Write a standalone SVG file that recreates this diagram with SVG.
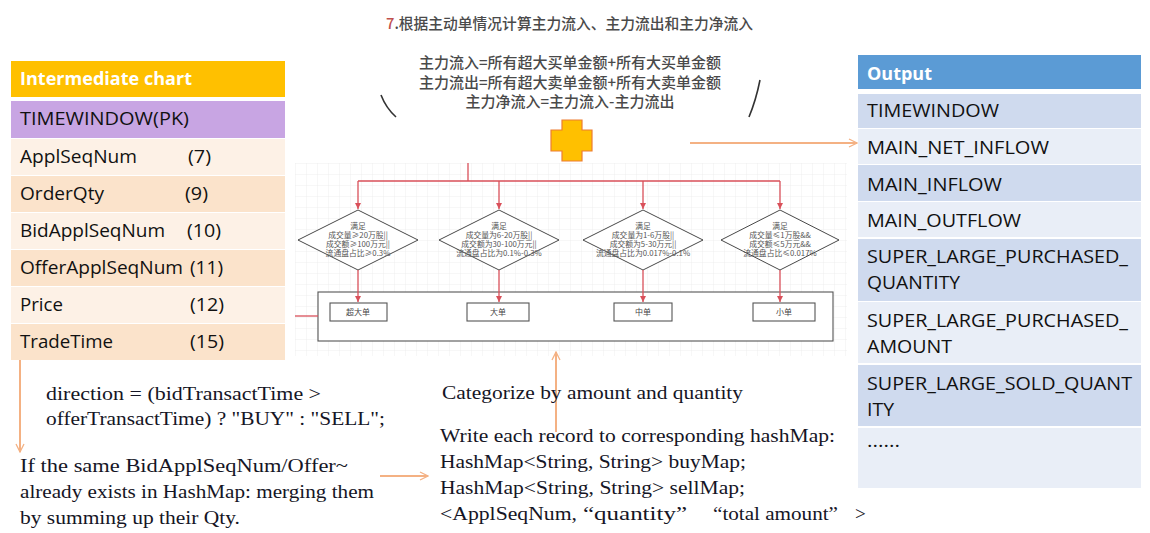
<svg xmlns="http://www.w3.org/2000/svg" width="1150" height="533" viewBox="0 0 1150 533">
<style>
.cal{font-family:"Open Sans","Lato",sans-serif;font-size:18px;fill:#111}
.hdr{font-family:"Open Sans","Lato",sans-serif;font-size:18px;font-weight:bold;fill:#fff}
.ser{font-family:"Liberation Serif","DejaVu Serif",serif;font-size:19px;fill:#151525}
.cn{font-family:"Noto Sans CJK SC",sans-serif;fill:#4a4a4a}
.dt{font-family:"Noto Sans CJK SC",sans-serif;font-size:7.8px;fill:#555;text-anchor:middle}
.bt{font-family:"Noto Sans CJK SC",sans-serif;font-size:8px;fill:#444;text-anchor:middle}
.red{stroke:#D9505A;stroke-width:1.3;fill:none}
.dia{fill:#fff;stroke:#333;stroke-width:0.9}
.box{fill:#fff;stroke:#555;stroke-width:1.1}
.org{stroke:#F4B183;stroke-width:2;fill:none}
.lt{fill:#FDF1E6}.dk{fill:#FBE3CB}
.bd{fill:#CFDAEE}.bl{fill:#E9EEF7}
</style>
<defs>
<pattern id="grid" width="11" height="11" patternUnits="userSpaceOnUse" x="295" y="163">
<path d="M11 0H0V11" fill="none" stroke="#ECECEC" stroke-width="0.8"/>
</pattern>
<marker id="ra" viewBox="0 0 10 10" refX="10" refY="5" markerWidth="6" markerHeight="6" orient="auto" markerUnits="userSpaceOnUse">
<path d="M0 0L10 5L0 10z" fill="#D9505A"/>
</marker>
<marker id="oa" viewBox="0 0 10 10" refX="9" refY="5" markerWidth="10" markerHeight="10" orient="auto" markerUnits="userSpaceOnUse">
<path d="M1 1L9 5L1 9" fill="none" stroke="#F4B183" stroke-width="1.3"/>
</marker>
</defs>
<rect width="1150" height="533" fill="#fff"/>

<g id="formula-image">
<text class="cn" x="386" y="29" font-size="15" font-weight="500" textLength="367" lengthAdjust="spacingAndGlyphs"><tspan fill="#C0504D">7</tspan>.根据主动单情况计算主力流入、主力流出和主力净流入</text>
<text class="cn" x="570" y="68" font-size="15" font-weight="500" text-anchor="middle">主力流入=所有超大买单金额+所有大买单金额</text>
<text class="cn" x="570" y="88" font-size="15" font-weight="500" text-anchor="middle">主力流出=所有超大卖单金额+所有大卖单金额</text>
<text class="cn" x="570" y="107" font-size="15" font-weight="500" text-anchor="middle">主力净流入=主力流入-主力流出</text>
<path d="M381 95Q386 108 396 117" fill="none" stroke="#333" stroke-width="1.6"/>
<path d="M760 80Q756 100 749 117" fill="none" stroke="#333" stroke-width="1.6"/>
</g>

<g id="plus">
<path d="M562 120H582V130H592V151H582V161H562V151H551V130H562Z" fill="#FFC000" stroke="#ED7D31" stroke-width="1.2"/>
</g>

<g id="intermediate-chart">
<rect x="11" y="61" width="274" height="36" fill="#FFC000"/>
<text class="hdr" x="20" y="85" textLength="172" lengthAdjust="spacingAndGlyphs">Intermediate chart</text>
<rect x="11" y="101" width="274" height="37" fill="#C8A5E3"/>
<text class="cal" x="20" y="125" textLength="169" lengthAdjust="spacingAndGlyphs">TIMEWINDOW(PK)</text>
<rect class="lt" x="11" y="139" width="274" height="36"/>
<rect class="dk" x="11" y="176" width="274" height="36"/>
<rect class="lt" x="11" y="213" width="274" height="36"/>
<rect class="dk" x="11" y="250" width="274" height="36"/>
<rect class="lt" x="11" y="287" width="274" height="36"/>
<rect class="dk" x="11" y="324" width="274" height="36"/>
<text class="cal" x="20" y="163" textLength="117" lengthAdjust="spacingAndGlyphs">ApplSeqNum</text>
<text class="cal" x="188" y="163" textLength="23" lengthAdjust="spacingAndGlyphs">(7)</text>
<text class="cal" x="20" y="200" textLength="84" lengthAdjust="spacingAndGlyphs">OrderQty</text>
<text class="cal" x="185" y="200" textLength="23" lengthAdjust="spacingAndGlyphs">(9)</text>
<text class="cal" x="20" y="237" textLength="145" lengthAdjust="spacingAndGlyphs">BidApplSeqNum</text>
<text class="cal" x="187" y="237" textLength="34" lengthAdjust="spacingAndGlyphs">(10)</text>
<text class="cal" x="20" y="274" textLength="163" lengthAdjust="spacingAndGlyphs">OfferApplSeqNum</text>
<text class="cal" x="190" y="274" textLength="33" lengthAdjust="spacingAndGlyphs">(11)</text>
<text class="cal" x="20" y="311" textLength="43" lengthAdjust="spacingAndGlyphs">Price</text>
<text class="cal" x="190" y="311" textLength="34" lengthAdjust="spacingAndGlyphs">(12)</text>
<text class="cal" x="20" y="348" textLength="93" lengthAdjust="spacingAndGlyphs">TradeTime</text>
<text class="cal" x="190" y="348" textLength="34" lengthAdjust="spacingAndGlyphs">(15)</text>
</g>

<g id="output-table">
<rect x="858" y="55" width="283" height="34" fill="#5B9BD5"/>
<text class="hdr" x="867" y="80" textLength="65" lengthAdjust="spacingAndGlyphs">Output</text>
<rect class="bd" x="858" y="94" width="283" height="34"/>
<rect class="bl" x="858" y="129" width="283" height="35"/>
<rect class="bd" x="858" y="165" width="283" height="36"/>
<rect class="bl" x="858" y="202" width="283" height="35"/>
<rect class="bd" x="858" y="239" width="283" height="62"/>
<rect class="bl" x="858" y="302" width="283" height="61"/>
<rect class="bd" x="858" y="365" width="283" height="61"/>
<rect class="bl" x="858" y="428" width="283" height="60"/>
<text class="cal" x="867" y="117" textLength="132" lengthAdjust="spacingAndGlyphs">TIMEWINDOW</text>
<text class="cal" x="867" y="154" textLength="182" lengthAdjust="spacingAndGlyphs">MAIN_NET_INFLOW</text>
<text class="cal" x="867" y="191" textLength="135" lengthAdjust="spacingAndGlyphs">MAIN_INFLOW</text>
<text class="cal" x="867" y="227" textLength="154" lengthAdjust="spacingAndGlyphs">MAIN_OUTFLOW</text>
<text class="cal" x="867" y="263" textLength="261" lengthAdjust="spacingAndGlyphs">SUPER_LARGE_PURCHASED_</text>
<text class="cal" x="867" y="289" textLength="93" lengthAdjust="spacingAndGlyphs">QUANTITY</text>
<text class="cal" x="867" y="327" textLength="261" lengthAdjust="spacingAndGlyphs">SUPER_LARGE_PURCHASED_</text>
<text class="cal" x="867" y="353" textLength="85" lengthAdjust="spacingAndGlyphs">AMOUNT</text>
<text class="cal" x="867" y="390" textLength="265" lengthAdjust="spacingAndGlyphs">SUPER_LARGE_SOLD_QUANT</text>
<text class="cal" x="867" y="416" textLength="27" lengthAdjust="spacingAndGlyphs">ITY</text>
<text class="cal" x="867" y="447" textLength="33" lengthAdjust="spacingAndGlyphs">......</text>
</g>

<g id="flowchart">
<rect x="295" y="163" width="552" height="193" fill="url(#grid)"/>
<rect class="box" x="318" y="292" width="515" height="49"/>
<g id="d1"><path class="dia" d="M298 240L358 210L418 240L358 270Z"/>
<text class="dt" x="358" y="229">满足</text><text class="dt" x="358" y="238">成交量≥20万股||</text><text class="dt" x="358" y="247">成交额≥100万元||</text><text class="dt" x="358" y="256">流通盘占比≥0.3%</text></g>
<g id="d2"><path class="dia" d="M439 240L499 210L559 240L499 270Z"/>
<text class="dt" x="499" y="229">满足</text><text class="dt" x="499" y="238">成交量为6-20万股||</text><text class="dt" x="499" y="247">成交额为30-100万元||</text><text class="dt" x="499" y="256">流通盘占比为0.1%-0.3%</text></g>
<g id="d3"><path class="dia" d="M583 240L643 210L703 240L643 270Z"/>
<text class="dt" x="643" y="229">满足</text><text class="dt" x="643" y="238">成交量为1-6万股||</text><text class="dt" x="643" y="247">成交额为5-30万元||</text><text class="dt" x="643" y="256">流通盘占比为0.017%-0.1%</text></g>
<g id="d4"><path class="dia" d="M721 240L780 210L839 240L780 270Z"/>
<text class="dt" x="780" y="229">满足</text><text class="dt" x="780" y="238">成交量≤1万股&amp;&amp;</text><text class="dt" x="780" y="247">成交额≤5万元&amp;&amp;</text><text class="dt" x="780" y="256">流通盘占比≤0.017%</text></g>
<g id="b1"><rect class="box" x="330" y="303" width="57" height="18"/><text class="bt" x="358" y="315">超大单</text></g>
<g id="b2"><rect class="box" x="467" y="303" width="62" height="18"/><text class="bt" x="498" y="315">大单</text></g>
<g id="b3"><rect class="box" x="614" y="303" width="58" height="18"/><text class="bt" x="643" y="315">中单</text></g>
<g id="b4"><rect class="box" x="753" y="303" width="62" height="18"/><text class="bt" x="784" y="315">小单</text></g>
</g>

<g id="connectors">
<path class="red" d="M468 163V181M358 181H780"/>
<path class="red" d="M358 181V209" marker-end="url(#ra)"/>
<path class="red" d="M499 181V209" marker-end="url(#ra)"/>
<path class="red" d="M643 181V209" marker-end="url(#ra)"/>
<path class="red" d="M780 181V209" marker-end="url(#ra)"/>
<path class="red" d="M358 270V302" marker-end="url(#ra)"/>
<path class="red" d="M499 270V302" marker-end="url(#ra)"/>
<path class="red" d="M643 270V302" marker-end="url(#ra)"/>
<path class="red" d="M780 270V302" marker-end="url(#ra)"/>
<path class="red" d="M295 316H318"/>
<path class="org" d="M690 143H857" marker-end="url(#oa)"/>
<path class="org" d="M20 360V452" marker-end="url(#oa)"/>
<path class="org" d="M380 476H428" marker-end="url(#oa)"/>
<path class="org" d="M556 432V352" marker-end="url(#oa)"/>
</g>

<g id="notes">
<text class="ser" x="46" y="400" textLength="275" lengthAdjust="spacingAndGlyphs">direction = (bidTransactTime &gt;</text>
<text class="ser" x="46" y="425" textLength="339" lengthAdjust="spacingAndGlyphs">offerTransactTime) ? "BUY" : "SELL";</text>
<text class="ser" x="20" y="472" textLength="328" lengthAdjust="spacingAndGlyphs">If the same BidApplSeqNum/Offer~</text>
<text class="ser" x="20" y="498" textLength="354" lengthAdjust="spacingAndGlyphs">already exists in HashMap: merging them</text>
<text class="ser" x="20" y="524" textLength="220" lengthAdjust="spacingAndGlyphs">by summing up their Qty.</text>
<text class="ser" x="442" y="399" textLength="301" lengthAdjust="spacingAndGlyphs">Categorize by amount and quantity</text>
<text class="ser" x="440" y="442" textLength="395" lengthAdjust="spacingAndGlyphs">Write each record to corresponding hashMap:</text>
<text class="ser" x="440" y="468" textLength="306" lengthAdjust="spacingAndGlyphs">HashMap&lt;String, String&gt; buyMap;</text>
<text class="ser" x="440" y="494" textLength="305" lengthAdjust="spacingAndGlyphs">HashMap&lt;String, String&gt; sellMap;</text>
<text class="ser" x="440" y="520" textLength="137" lengthAdjust="spacingAndGlyphs">&lt;ApplSeqNum,</text>
<text class="ser" x="583" y="520" textLength="104" lengthAdjust="spacingAndGlyphs">“quantity”</text>
<text class="ser" x="713" y="520" textLength="125" lengthAdjust="spacingAndGlyphs">“total amount”</text>
<text class="ser" x="855" y="520">&gt;</text>
</g>
</svg>
